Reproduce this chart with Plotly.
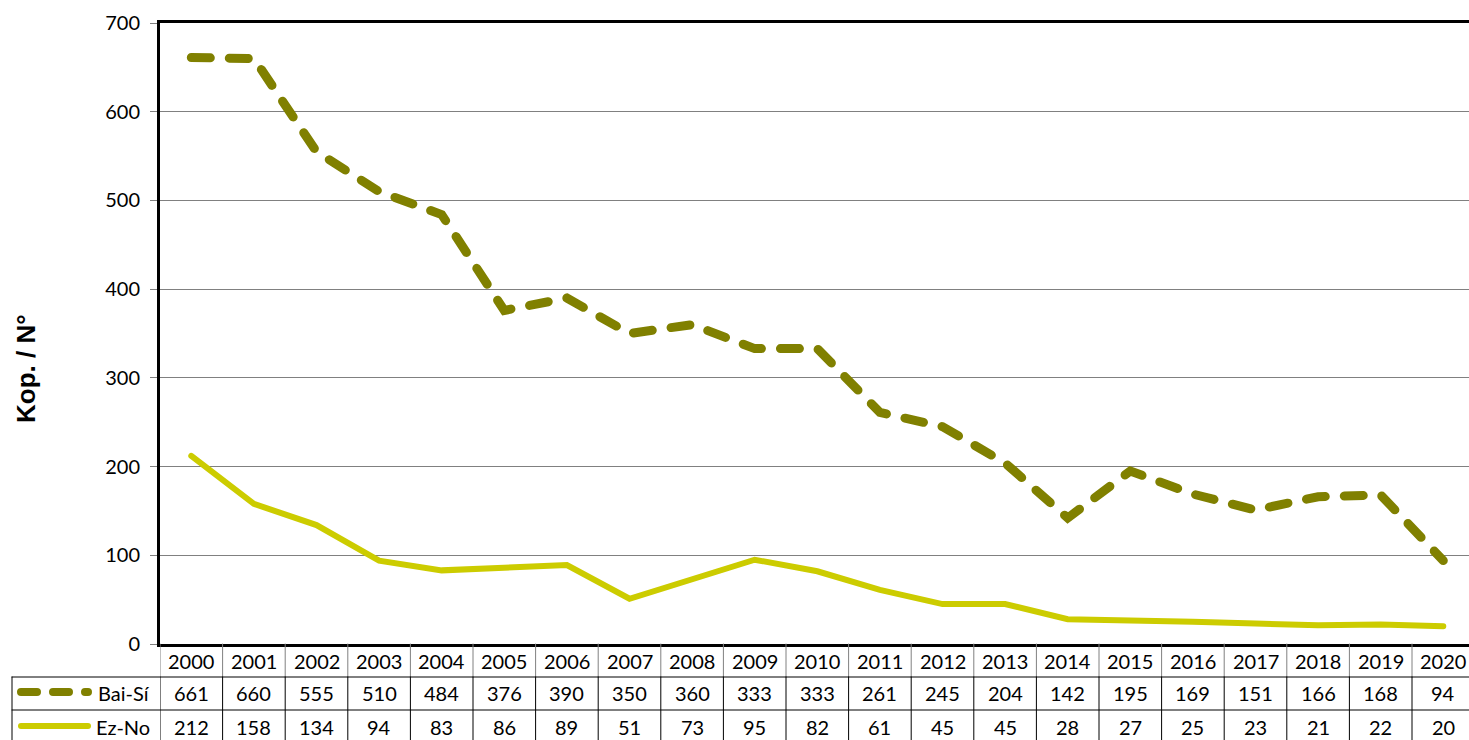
import plotly.graph_objects as go

years = [str(y) for y in range(2000, 2021)]
bai_si = [661, 660, 555, 510, 484, 376, 390, 350, 360, 333, 333, 261, 245, 204, 142, 195, 169, 151, 166, 168, 94]
ez_no = [212, 158, 134, 94, 83, 86, 89, 51, 73, 95, 82, 61, 45, 45, 28, 27, 25, 23, 21, 22, 20]
y_ticks = [0, 100, 200, 300, 400, 500, 600, 700]
series_names = ["Bai-Sí", "Ez-No"]

C_DASH = "#808000"
C_SOLID = "#cccc00"
FONT = "Lato"

W, H = 1469, 740
L, T, B = 160, 23, 644
PW = W - L
PH = B - T
COLW = 62.6

def py(p):
    return (B - p) / PH

def px(p):
    return (p - L) / PW

fig = go.Figure()
fig.add_trace(go.Scatter(x=list(range(len(years))), y=bai_si, mode="lines", name=series_names[0],
                         line=dict(color=C_DASH, width=9, dash="19px,19px"), showlegend=False,
                         hoverinfo="skip"))
fig.add_trace(go.Scatter(x=list(range(len(years))), y=ez_no, mode="lines", name=series_names[1],
                         line=dict(color=C_SOLID, width=6), showlegend=False, hoverinfo="skip"))

shapes = []
annotations = []
n = len(years)
row_y = [(644, 677), (677, 710), (710, 760)]
for i in range(n + 1):
    xv = i - 0.5
    shapes.append(dict(type="line", xref="x", yref="paper", x0=xv, x1=xv,
                       y0=py(row_y[0][0]), y1=py(row_y[0][1]), line=dict(color="#808080", width=1)))
    shapes.append(dict(type="line", xref="x", yref="paper", x0=xv, x1=xv,
                       y0=py(row_y[1][0]), y1=py(row_y[2][1]), line=dict(color="#000000", width=1)))
shapes.append(dict(type="line", xref="paper", yref="paper", x0=px(12), x1=px(12),
                   y0=py(row_y[1][0]), y1=py(row_y[2][1]), line=dict(color="#000000", width=1)))
for yy in (677, 710):
    shapes.append(dict(type="line", xref="paper", yref="paper", x0=px(12), x1=1.0,
                       y0=py(yy), y1=py(yy), line=dict(color="#000000", width=1)))
shapes.append(dict(type="line", xref="paper", yref="paper", x0=px(21), x1=px(88),
                   y0=py(692), y1=py(692), line=dict(color=C_DASH, width=8, dash="16px,16px")))
shapes.append(dict(type="line", xref="paper", yref="paper", x0=px(21), x1=px(88),
                   y0=py(726), y1=py(726), line=dict(color=C_SOLID, width=6)))

tf = dict(family=FONT, size=20, color="#000000")
for i, yr in enumerate(years):
    annotations.append(dict(x=i, y=py(661), xref="x", yref="paper", text=yr, showarrow=False,
                            font=tf, xanchor="center", yanchor="middle"))
    annotations.append(dict(x=i, y=py(693), xref="x", yref="paper", text=str(bai_si[i]), showarrow=False,
                            font=tf, xanchor="center", yanchor="middle"))
    annotations.append(dict(x=i, y=py(727), xref="x", yref="paper", text=str(ez_no[i]), showarrow=False,
                            font=tf, xanchor="center", yanchor="middle"))
annotations.append(dict(x=px(152), y=py(693), xref="paper", yref="paper", text=series_names[0],
                        showarrow=False, font=tf, xanchor="right", yanchor="middle"))
annotations.append(dict(x=px(152), y=py(727), xref="paper", yref="paper", text=series_names[1],
                        showarrow=False, font=tf, xanchor="right", yanchor="middle"))
annotations.append(dict(x=px(26), y=py(369), xref="paper", yref="paper", text="<b>Kop. / N°</b>",
                        showarrow=False, textangle=-90, xanchor="center", yanchor="middle",
                        font=dict(family="Liberation Sans", size=26, color="#000000")))

fig.update_layout(
    width=W, height=H,
    margin=dict(l=L, r=0, t=T, b=H - B, pad=0),
    paper_bgcolor="white", plot_bgcolor="white",
    shapes=shapes, annotations=annotations,
    font=dict(family=FONT, size=20, color="#000000"),
    hovermode=False,
)
fig.update_xaxes(range=[-0.5, -0.5 + PW / COLW], showticklabels=False, ticks="",
                 showgrid=False, showline=True, linecolor="#000000", linewidth=3, mirror=True,
                 zeroline=False, fixedrange=True)
fig.update_yaxes(range=[0, 700], tickvals=y_ticks, ticks="outside", ticklen=7, tickcolor="#808080",
                 tickwidth=1, ticklabelstandoff=6, showgrid=True, gridcolor="#808080", gridwidth=1,
                 showline=True, linecolor="#000000", linewidth=3, zeroline=False, fixedrange=True,
                 tickfont=dict(family=FONT, size=20, color="#000000"))

post = """
document.body.style.margin='0';
document.body.style.overflow='hidden';
var gd = document.getElementById('{plot_id}');
function roundCaps(){
  gd.querySelectorAll('.js-line, .shapelayer path').forEach(function(p){
    p.style.strokeLinecap = 'round';
  });
}
roundCaps();
gd.on('plotly_afterplot', roundCaps);
"""
fig.write_html("out.html", post_script=post, config={"displayModeBar": False, "staticPlot": True})
